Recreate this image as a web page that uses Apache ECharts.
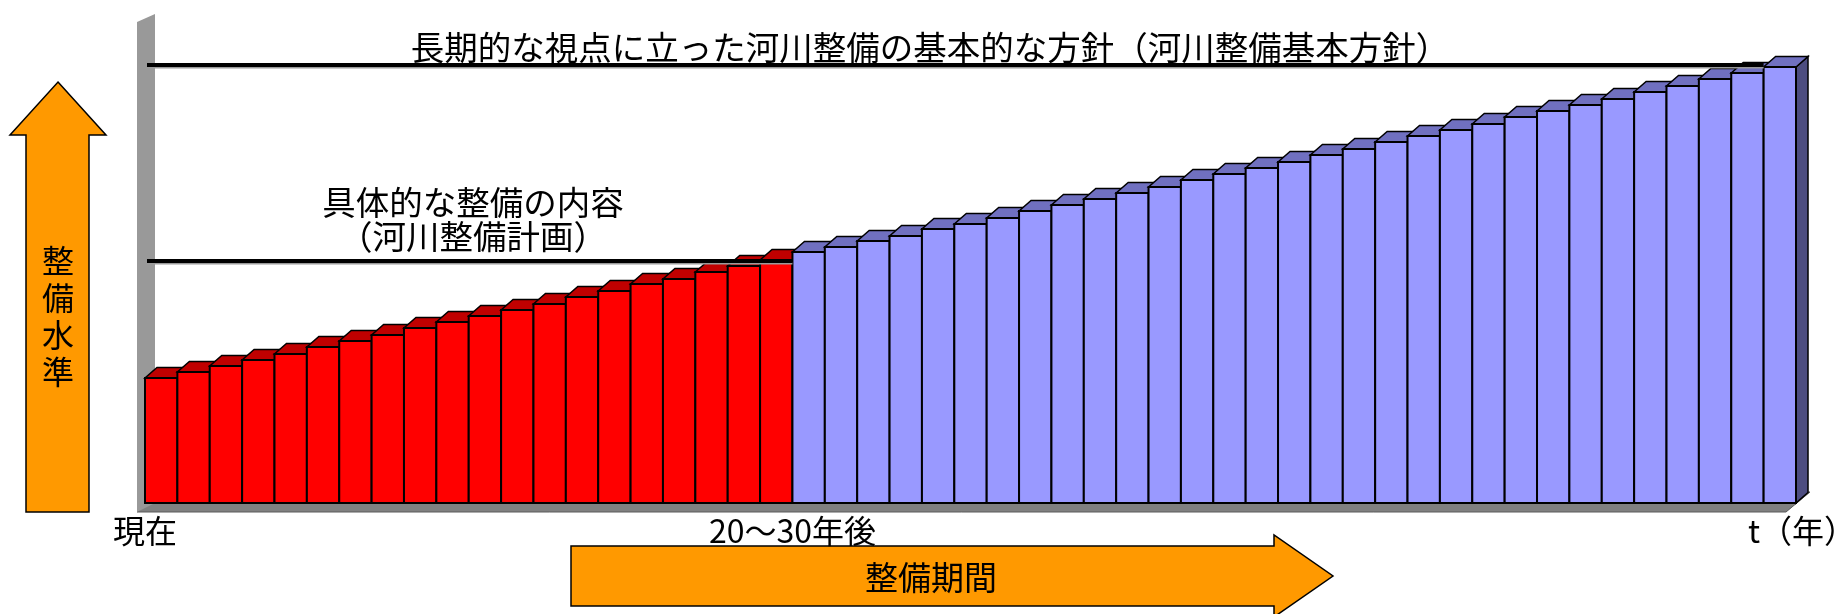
<!DOCTYPE html>
<html>
<head>
<meta charset="utf-8">
<script src="https://cdn.jsdelivr.net/npm/echarts@6/dist/echarts.min.js"></script>
<style>
  html, body { margin: 0; padding: 0; background: #ffffff; }
  #main { width: 1841px; height: 614px; }
</style>
</head>
<body>
<div id="main"></div>
<script>
// 整備水準 (river improvement level) per year
const planLevels = [125, 131, 137, 143, 149, 156, 162, 168, 175, 181, 187, 193, 199, 206, 212, 219, 224, 231, 237, 243];
const policyLevels = [251, 256, 262, 267, 274, 279, 285, 292, 298, 304, 310, 316, 323, 329, 335, 341, 348, 354, 361, 367, 373, 379, 386, 392, 398, 404, 411, 417, 424, 430, 436];

// horizontal guide lines: level and the bar slot where each stops
const guideLevels = [438, 242];
const guideEnds = [50, 20];

// x tick labels and the slot boundary they sit on
const tickTexts = ['現在', '20～30年後', 't（年）'];
const tickSlots = [0, 20, 51];
const tickShift = [0, 0, 6];

const FONT = '"Noto Sans CJK JP", "Noto Sans CJK SC", sans-serif';
const DX = 12, DY = 10.5; // fake 3d depth

const levels = planLevels.concat(policyLevels);
const categories = levels.map((v, i) => String(i + 1));
const barData = levels.map((v, i) => [i, v, i < planLevels.length ? 0 : 1]);

const faceColor = ['#ff0000', '#9999ff'];
const topColor = ['#c00000', '#7070c0'];
const sideColor = ['#900000', '#4d4d80'];

function renderFrame(params, api) {
  const cs = params.coordSys;
  const x = cs.x, w = cs.width, top = cs.y, base = cs.y + cs.height;
  return {
    type: 'group',
    children: [
      { type: 'polygon', shape: { points: [[x - 8, base + 9], [x + w - 10, base + 9], [x + w + 14, base - 11], [x + 16, base - 11]] },
        style: { fill: '#808080', stroke: '#5a5a5a', lineWidth: 1 } },
      { type: 'polygon', shape: { points: [[x - 8, top + 9], [x + 10, top + 1], [x + 10, base], [x - 8, base + 9]] },
        style: { fill: '#999999' } }
    ]
  };
}

function renderBar(params, api) {
  const i = api.value(0), v = api.value(1), g = api.value(2);
  const top = api.coord([i, v]);
  const base = api.coord([i, 0]);
  const w = api.size([1, 0])[0];
  const x0 = top[0] - w / 2, x1 = top[0] + w / 2, y = top[1];
  const kids = [];
  if (i === levels.length - 1) {
    kids.push({ type: 'polygon', z2: 3 * i,
      shape: { points: [[x1, y], [x1 + DX, y - DY], [x1 + DX, base[1] - DY], [x1, base[1]]] },
      style: { fill: sideColor[g], stroke: '#000', lineWidth: 1.5 } });
  }
  kids.push({ type: 'polygon', z2: 3 * i + 1,
    shape: { points: [[x0, y], [x1, y], [x1 + DX, y - DY], [x0 + DX, y - DY]] },
    style: { fill: topColor[g], stroke: '#000', lineWidth: 1.5 } });
  kids.push({ type: 'rect', z2: 3 * i + 2,
    shape: { x: x0, y: y, width: w, height: base[1] - y },
    style: { fill: faceColor[g], stroke: '#000', lineWidth: 2 } });
  return { type: 'group', children: kids };
}

function renderGuide(params, api) {
  const v = api.value(0), end = api.value(1);
  const w = api.size([1, 0])[0];
  const a = api.coord([0, v]), b = api.coord([end, v]);
  const xs = a[0] - w / 2 + 2, xe = b[0] - w / 2;
  return {
    type: 'group',
    children: [
      { type: 'line', shape: { x1: xs, y1: a[1] + 2.5, x2: xe, y2: a[1] + 2.5 }, style: { stroke: '#9a9a9a', lineWidth: 2 } },
      { type: 'line', shape: { x1: xs, y1: a[1], x2: xe, y2: a[1] }, style: { stroke: '#000', lineWidth: 4 } }
    ]
  };
}

function label(id, text, x, y, size, lineHeight) {
  return {
    type: 'text', id: id, x: x, y: y, z: 100,
    style: { text: text, fontSize: size, lineHeight: lineHeight || size, fontFamily: FONT, fill: '#000',
      align: 'center', verticalAlign: 'middle', textAlign: 'center', textVerticalAlign: 'middle' }
  };
}

const chart = echarts.init(document.getElementById('main'));
chart.setOption({
  backgroundColor: '#ffffff',
  animation: false,
  grid: { left: 145, right: 45, top: 13, bottom: 111 },
  xAxis: { type: 'category', data: categories, show: false },
  yAxis: { type: 'value', min: 0, max: 490, show: false },
  series: [
    { type: 'custom', name: 'frame', z: 1, clip: false, silent: true, data: [0], renderItem: renderFrame },
    { type: 'custom', name: '整備水準', z: 2, clip: false, silent: true, data: barData, renderItem: renderBar },
    { type: 'custom', name: 'guide', z: 3, clip: false, silent: true,
      encode: { x: 1, y: 0 },
      data: guideLevels.map((v, k) => [v, guideEnds[k]]), renderItem: renderGuide }
  ]
});

// tick labels sit on slot boundaries of the category axis
const c0 = chart.convertToPixel({ xAxisIndex: 0 }, 0);
const band = chart.convertToPixel({ xAxisIndex: 0 }, 1) - c0;
const ticks = tickTexts.map((t, k) =>
  label('tick' + k, t, c0 + (tickSlots[k] - 0.5) * band + tickShift[k], 531, 32));

chart.setOption({
  graphic: [
    { type: 'polygon', id: 'arrowUp', z: 50,
      shape: { points: [[58, 82], [106, 135], [89, 135], [89, 512], [26, 512], [26, 135], [10, 135]] },
      style: { fill: '#ff9900', stroke: '#000', lineWidth: 1.5 } },
    { type: 'polygon', id: 'arrowRight', z: 50,
      shape: { points: [[571, 546], [1274, 546], [1274, 535], [1333, 576], [1274, 617], [1274, 606], [571, 606]] },
      style: { fill: '#ff9900', stroke: '#000', lineWidth: 1.5 } },
    label('levelText', '整\n備\n水\n準', 58, 316, 32, 37),
    label('periodText', '整備期間', 931, 577, 33),
    label('policyText', '長期的な視点に立った河川整備の基本的な方針（河川整備基本方針）', 930, 47, 33.5),
    label('planText', '具体的な整備の内容\n（河川整備計画）', 473, 219, 33.5, 34)
  ].concat(ticks)
});
</script>
</body>
</html>
